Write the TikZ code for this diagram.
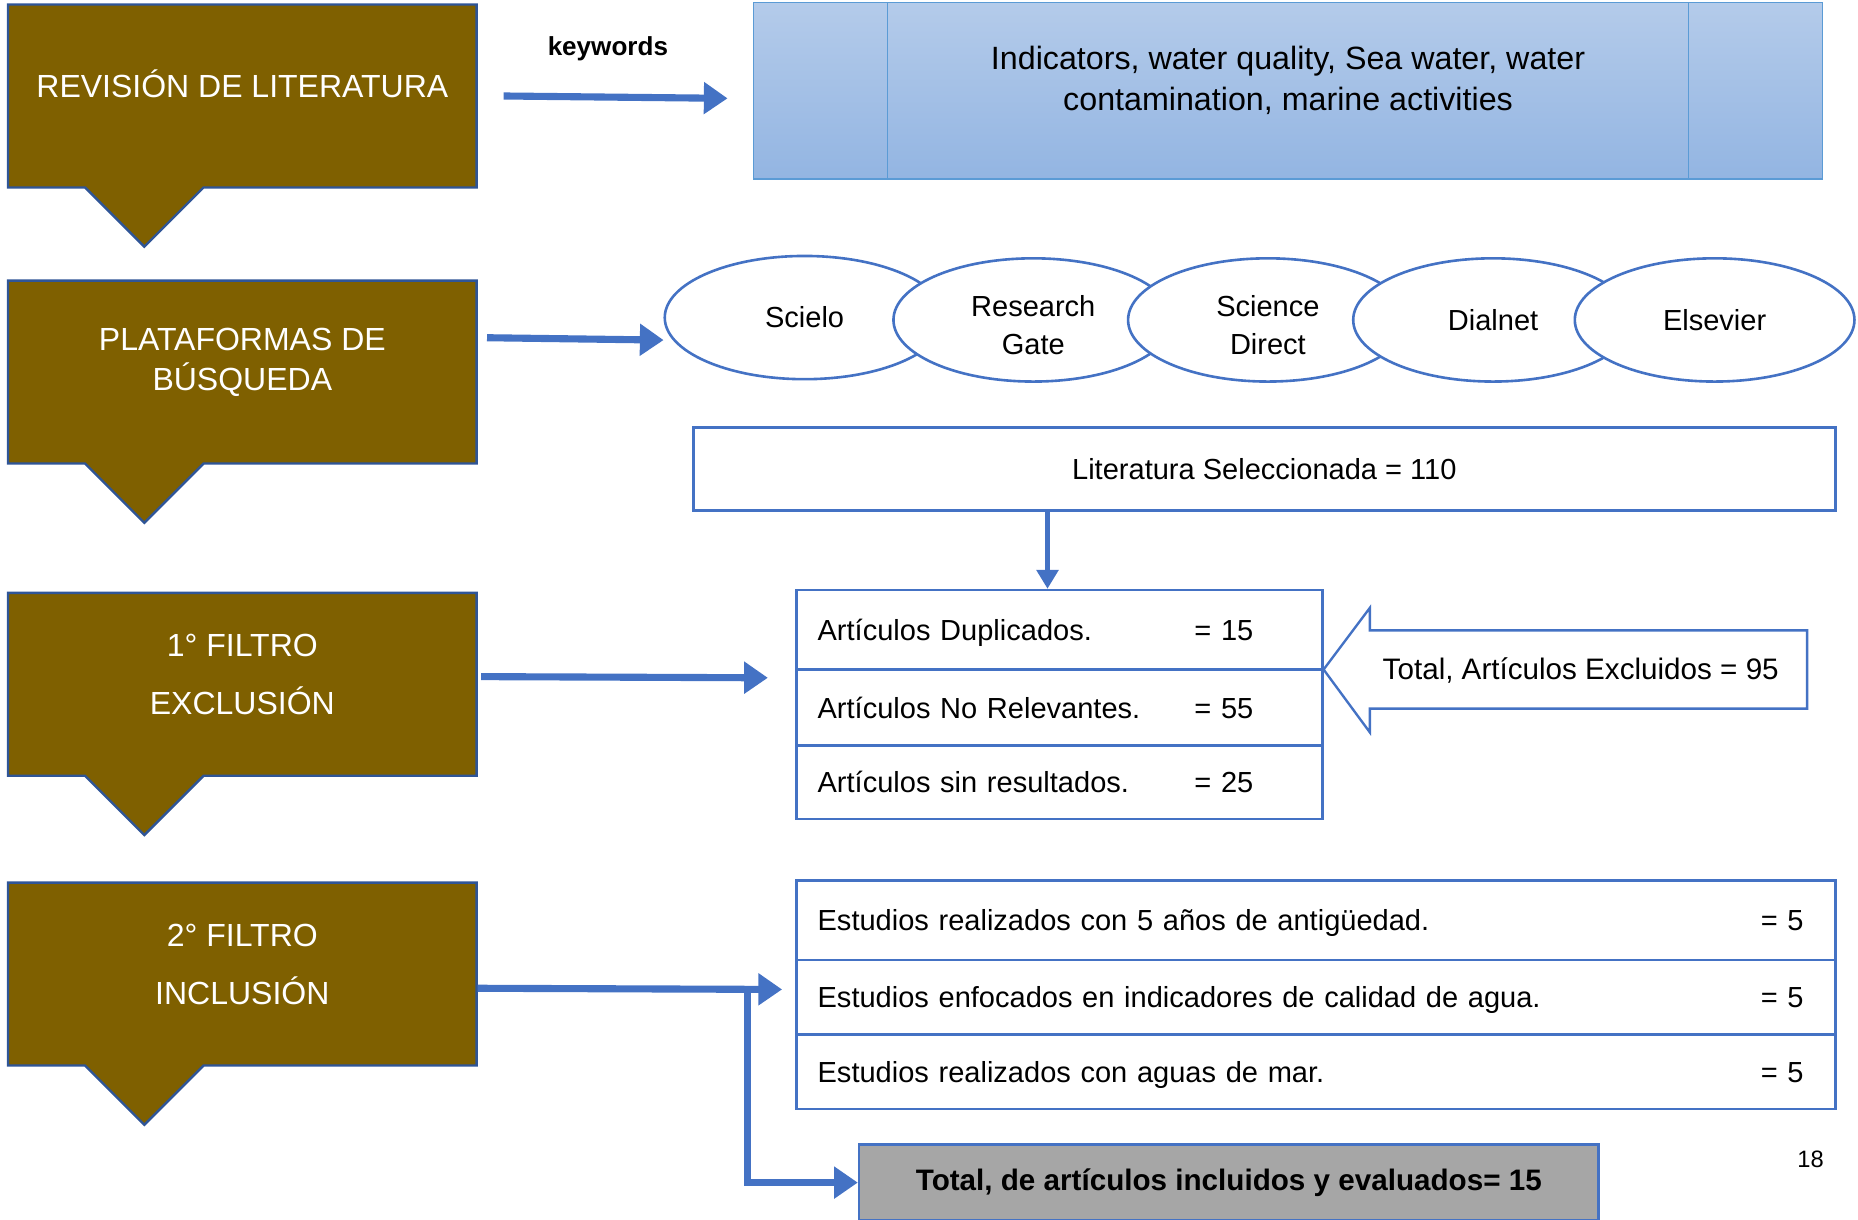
\documentclass[tikz,border=0pt]{standalone}
\usepackage{fontspec}
\setmainfont{Liberation Sans}
\usetikzlibrary{arrows.meta,shapes.geometric,calc}
\definecolor{cbrown}{HTML}{7F6000}
\definecolor{cbord}{HTML}{2F5597}
\definecolor{lblue}{HTML}{4472C4}
\definecolor{btop}{HTML}{B4CBEA}
\definecolor{bbot}{HTML}{93B5E2}
\definecolor{bedge}{HTML}{5B9BD5}
\definecolor{gbox}{HTML}{A6A6A6}
\newcommand{\rowstrut}{\rule[-5pt]{0pt}{28pt}}
\newcommand{\topstrut}{\rule{0pt}{26pt}}
\begin{document}
\begin{tikzpicture}[x=1pt,y=-1pt,
  cbox/.style={rectangle,minimum width=395pt,minimum height=154pt,inner sep=0pt},
  callout/.style={fill=cbrown,draw=cbord,line width=2pt,line join=miter},
  ctext/.style={text=white,align=center,inner sep=0pt},
  txt/.style={font=\fontsize{24.5}{32}\selectfont,inner sep=0pt},
  arr/.style={draw=lblue,line width=6pt,-{Triangle[length=20pt,width=26pt]}},
  thinarr/.style={draw=lblue,line width=4pt,-{Triangle[length=16pt,width=18pt]}},
  plat/.style={ellipse,draw=lblue,line width=2.2pt,fill=white,minimum width=236pt,minimum height=104pt,inner sep=0pt,align=center,font=\fontsize{24.5}{32}\selectfont},
  rowbox/.style={rectangle,draw=lblue,line width=2.2pt,fill=white,inner xsep=18pt,inner ysep=0pt,align=left,
    font=\fontsize{24.5}{32}\selectfont}
]
\useasboundingbox (0,0) rectangle (1568,1029);
\clip (0,0) rectangle (1568,1029);

% ---------- left callouts ----------
\node[cbox] (c1) at (204.5,81) {};
\node[cbox] (c2) at (204.5,314) {};
\node[cbox] (c3) at (204.5,577.5) {};
\node[cbox] (c4) at (204.5,822) {};
\foreach \c in {c1,c2,c3,c4}{
  \draw[callout] (\c.north west) -- (\c.north east) -- (\c.south east)
    -- ($(\c.south west)+(165,0)$) -- ($(\c.south west)+(115,50)$)
    -- ($(\c.south west)+(65,0)$) -- (\c.south west) -- cycle;
}
\node[ctext,font=\fontsize{27}{34}\selectfont] (t1) at (204.5,71) {REVISIÓN DE LITERATURA};
\node[ctext,font=\fontsize{27}{34}\selectfont] (t2) at (204.5,306) {PLATAFORMAS DE\\BÚSQUEDA};
\node[ctext,font=\fontsize{27}{49}\selectfont] (t3) at (204.5,569) {1° FILTRO\\EXCLUSIÓN};
\node[ctext,font=\fontsize{27}{49}\selectfont] (t4) at (204.5,814) {2° FILTRO\\INCLUSIÓN};

% ---------- keywords box ----------
\node[rectangle,draw=bedge,line width=1pt,top color=btop,bottom color=bbot,
      minimum width=902pt,minimum height=149pt,inner sep=0pt] (kw) at (1087,76.5) {};
\draw[bedge,line width=1pt] (749,2) -- (749,151) (1425,2) -- (1425,151);
\node[inner sep=0pt,align=center,font=\fontsize{27.2}{35}\selectfont] (kwt) at (1087,68)
  {Indicators, water quality, Sea water, water\\contamination, marine activities};
\node[inner sep=0pt,font=\fontsize{22}{26}\selectfont\bfseries] (kwl) at (513,41) {keywords};

% ---------- platforms ----------
\node[plat] (p1) at (679,268) {Scielo};
\node[plat] (p2) at (872,270) {\topstrut Research\\Gate};
\node[plat] (p3) at (1070,270) {\topstrut Science\\Direct};
\node[plat] (p4) at (1260,270) {Dialnet};
\node[plat] (p5) at (1447,270) {Elsevier};

% ---------- selected literature ----------
\node[rectangle,draw=lblue,line width=2.2pt,minimum width=964pt,minimum height=70pt,
      inner sep=0pt,font=\fontsize{24.5}{32}\selectfont] (lit) at (1067,396) {Literatura Seleccionada = 110};

% ---------- exclusion table ----------
\node[rowbox,text width=408pt,minimum height=67pt] (ex1) at (894,531.5)
  {\rowstrut\makebox[318pt][l]{Artículos Duplicados.}= 15};
\node[rowbox,text width=408pt,minimum height=64pt] (ex2) at (894,597)
  {\rowstrut\makebox[318pt][l]{Artículos No Relevantes.}= 55};
\node[rowbox,text width=408pt,minimum height=62pt] (ex3) at (894,660)
  {\rowstrut\makebox[318pt][l]{Artículos sin resultados.}= 25};

% ---------- total excluded (left arrow callout) ----------
\coordinate (xt) at (1117,565);
\draw[draw=lblue,line width=2pt,fill=white,line join=miter]
  (xt) -- (1156,513) -- (1156,532) -- (1525,532) -- (1525,598) -- (1156,598) -- (1156,618) -- cycle;
\node[txt,font=\fontsize{25}{32}\selectfont] (tex) at (1334,566) {Total, Artículos Excluidos = 95};

% ---------- inclusion table ----------
\node[rowbox,text width=841pt,minimum height=67pt] (in1) at (1110.5,776.5)
  {\rowstrut\makebox[796pt][l]{Estudios realizados con 5 años de antigüedad.}= 5};
\node[rowbox,text width=841pt,minimum height=63pt] (in2) at (1110.5,841.5)
  {\rowstrut\makebox[796pt][l]{Estudios enfocados en indicadores de calidad de agua.}= 5};
\node[rowbox,text width=841pt,minimum height=63pt] (in3) at (1110.5,904.5)
  {\rowstrut\makebox[796pt][l]{Estudios realizados con aguas de mar.}= 5};

% ---------- total included ----------
\node[rectangle,draw=lblue,line width=2.2pt,fill=gbox,minimum width=624pt,minimum height=64pt,
      inner sep=0pt,font=\fontsize{25}{32}\selectfont\bfseries] (tot) at (1037,998)
  {Total, de artículos incluidos y evaluados= 15};
\node[inner sep=0pt,font=\fontsize{20}{24}\selectfont] (pg) at (1528,978) {18};

% ---------- connectors ----------
\coordinate (a1s) at (425,81);   \coordinate (a1e) at (614,83);
\coordinate (a2s) at (411,285);  \coordinate (a2e) at (560,287);
\coordinate (a3s) at (406,571);  \coordinate (a3e) at (648,572);
\coordinate (a4s) at (403,834);  \coordinate (a4e) at (660,835);
\coordinate (br)  at (631,834);
\draw[arr] (a1s) -- (a1e);
\draw[arr] (a2s) -- (a2e);
\draw[arr] (a3s) -- (a3e);
\draw[arr] (a4s) -- (a4e);
\draw[arr] (br) -- (br |- tot.west) -- (tot.west);
\draw[thinarr] (lit.south -| 884,0) -- (ex1.north -| 884,0);
\end{tikzpicture}
\end{document}
